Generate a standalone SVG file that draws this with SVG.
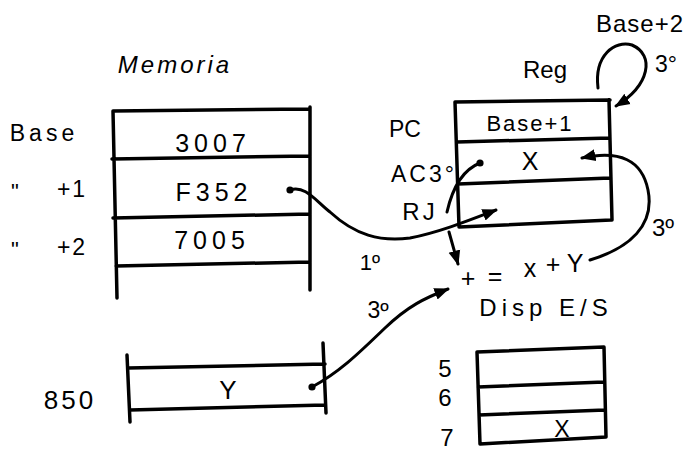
<svg xmlns="http://www.w3.org/2000/svg" width="690" height="452" viewBox="0 0 690 452">
<style>
.t{font-family:"Liberation Sans","DejaVu Sans",sans-serif;fill:#000;text-anchor:middle;}
.w{letter-spacing:5px;}
.b{stroke:#000;stroke-width:3.5;fill:none;stroke-linecap:round;stroke-linejoin:round;}
.c{stroke:#000;stroke-width:3;fill:none;stroke-linecap:round;}
</style>
<defs>
<marker id="ah" viewBox="0 0 10 10" refX="9" refY="5" markerWidth="5" markerHeight="5" orient="auto" markerUnits="strokeWidth">
<path d="M0,1 L10,5 L0,9 Z" fill="#000"/>
</marker>
<marker id="dot" viewBox="0 0 10 10" refX="5" refY="5" markerWidth="3" markerHeight="3" markerUnits="strokeWidth">
<circle cx="5" cy="5" r="4" fill="#000"/>
</marker>
</defs>
<rect width="690" height="452" fill="#fff"/>
<g id="memoria">
<text class="t" x="175" y="73" font-size="24" font-style="italic" letter-spacing="3">Memoria</text>
<path class="b" d="M113,111 L310,109 M112,159 L310,156 M113,218 L310,214 M116,266 L310,262 M113,111 L117,298 M310,107 L310,290"/>
<text class="t w" x="213" y="152" font-size="25">3007</text>
<text class="t w" x="214" y="201" font-size="25">F352</text>
<text class="t w" x="212" y="249" font-size="25">7005</text>
<text class="t" x="44" y="141" font-size="23" letter-spacing="4">Base</text>
<text class="t" x="15" y="199" font-size="22">"</text>
<text class="t" x="72" y="197" font-size="23" letter-spacing="2">+1</text>
<text class="t" x="15" y="257" font-size="22">"</text>
<text class="t" x="72" y="255" font-size="23" letter-spacing="2">+2</text>
</g>
<g id="reg">
<text class="t" x="545" y="78" font-size="24">Reg</text>
<text class="t" x="640" y="32" font-size="24" letter-spacing="1">Base+2</text>
<text class="t" x="666" y="72" font-size="23">3°</text>
<path class="b" d="M455,102 L610,100 M457,142 L610,138 M458,184 L610,178 M459,227 L611,220 M455,102 L459,227 M609,100 L612,220"/>
<text class="t" x="530" y="131" font-size="22" letter-spacing="2">Base+1</text>
<text class="t" x="530" y="170" font-size="25">X</text>
<text class="t" x="405" y="137" font-size="23">PC</text>
<text class="t" x="424" y="182" font-size="23" letter-spacing="3">AC3°</text>
<text class="t" x="420" y="220" font-size="24" letter-spacing="3">RJ</text>
<text class="t" x="663" y="236" font-size="24">3º</text>
<text class="t" x="468" y="287" font-size="25">+</text>
<text class="t" x="495" y="285" font-size="25">=</text>
<text class="t" x="530" y="277" font-size="25">x</text>
<text class="t" x="553" y="273" font-size="25">+</text>
<text class="t" x="575" y="272" font-size="25">Y</text>
</g>
<g id="disp">
<text class="t" x="546" y="316" font-size="24" letter-spacing="5">Disp E/S</text>
<path class="b" d="M477,352 L604,347 M478,387 L604,382 M479,415 L605,410 M480,444 L606,437 M477,352 L480,444 M604,347 L606,437"/>
<text class="t" x="445" y="377" font-size="24">5</text>
<text class="t" x="445" y="406" font-size="24">6</text>
<text class="t" x="447" y="446" font-size="24">7</text>
<text class="t" x="562" y="437" font-size="23">X</text>
</g>
<g id="y850">
<text class="t" x="70" y="409" font-size="26" letter-spacing="3">850</text>
<path class="b" d="M128,368 L325,364 M130,410 L325,405 M127,355 L130,422 M323,343 L326,413"/>
<text class="t" x="228" y="399" font-size="26">Y</text>
</g>
<g id="connectors">
<path class="c" d="M290,190 C305,185 315,200 330,212 C355,235 380,242 410,238 C440,232 470,220 496,210" marker-start="url(#dot)" marker-end="url(#ah)"/>
<text class="t" x="370" y="270" font-size="22">1º</text>
<path class="c" d="M447,212 C452,190 462,170 480,163" marker-end="url(#dot)"/>
<path class="c" d="M590,260 C630,248 655,225 648,190 C642,160 620,150 582,158" marker-end="url(#ah)"/>
<path class="c" d="M449,232 L458,264" marker-end="url(#ah)"/>
<path class="c" d="M312,387 C340,372 360,352 385,328 C408,306 425,298 448,289" marker-start="url(#dot)" marker-end="url(#ah)"/>
<text class="t" x="378" y="318" font-size="23">3º</text>
<path class="c" d="M598,88 C594,55 615,40 632,45 C655,55 650,85 616,106" marker-end="url(#ah)"/>
</g>
</svg>
